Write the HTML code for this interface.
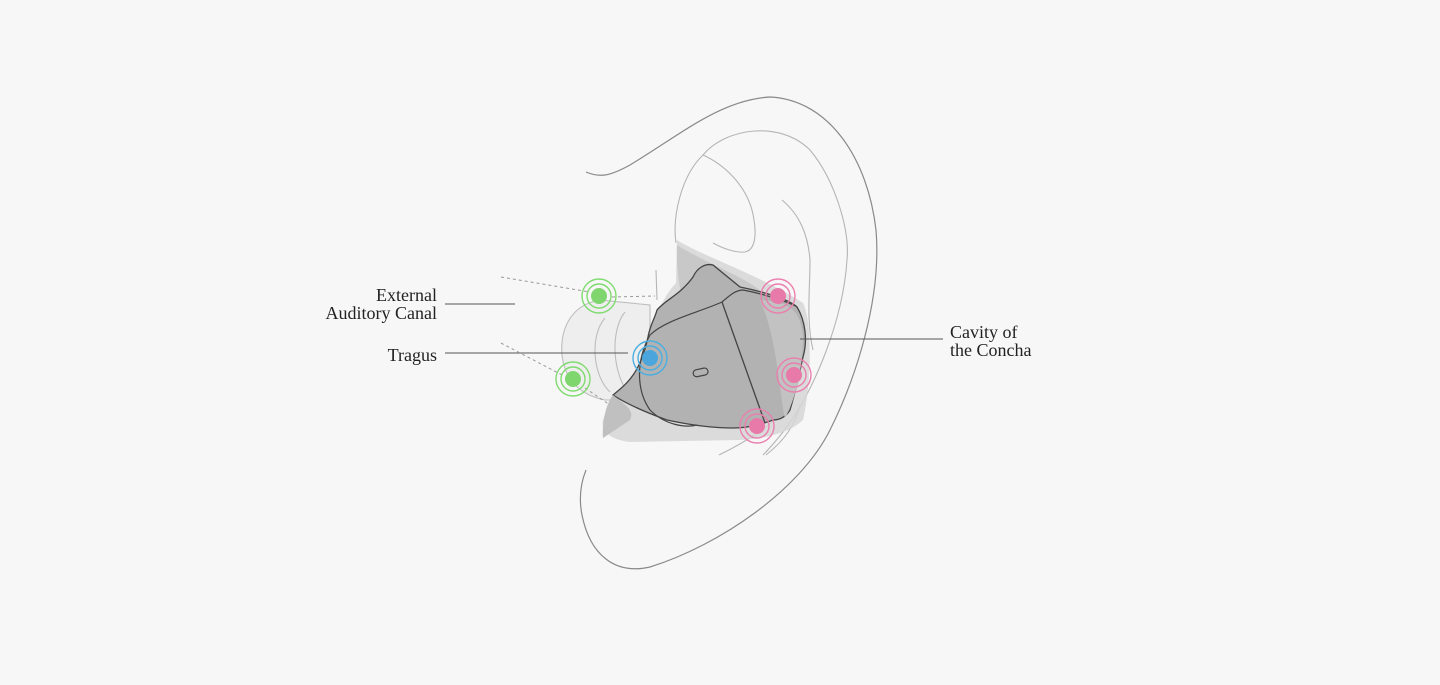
<!DOCTYPE html>
<html><head><meta charset="utf-8"><style>
body{margin:0;background:#f7f7f7;}
svg{display:block}
text{font-family:"Liberation Serif",serif;font-size:18px;fill:#222}
</style></head><body>
<svg width="1440" height="685" viewBox="0 0 1440 685" xmlns="http://www.w3.org/2000/svg">
<g fill="none" stroke="#8a8a8a" stroke-width="1.2">
<path d="M586,172 C600,178 610,176 630,165 C680,135 720,100 770,97 C830,100 868,160 876,230 C882,300 855,380 830,430 C800,490 720,545 650,567 C615,575 590,555 582,515 C578,495 582,480 586,470"/>
</g>
<g fill="none" stroke="#b5b5b5" stroke-width="1.1">
<path d="M676,243 C672,215 682,175 703,155 C725,128 780,120 810,150 C835,180 850,230 847,260 C843,320 815,390 783,432 C775,442 768,450 763,455"/>
<path d="M703,155 C725,165 745,185 752,210 C758,235 755,250 745,252 C735,253 722,248 713,243"/>
<path d="M782,200 C800,215 808,235 810,260 C810,290 806,320 813,350"/>
<path d="M719,455 C740,445 760,432 775,420"/>
<path d="M766,455 C785,440 795,425 800,405"/>
<path d="M656,270 L657,300"/>
</g>
<!-- eartip -->
<g stroke="#bdbdbd" stroke-width="1.1">
<path d="M600,300 C570,305 560,330 562,355 C565,380 580,395 605,400 L650,400 L650,305 Z" fill="#ececec" fill-opacity="0.85"/>
<path d="M605,318 C590,335 592,375 610,392" fill="none"/>
<path d="M625,312 C610,330 612,375 630,395" fill="none"/>
</g>
<!-- backdrop -->
<path d="M677,240 C700,255 760,275 803,303 C812,320 812,380 803,420 C790,432 770,438 740,440 L630,442 C610,440 600,430 603,420 C608,400 640,385 650,350 C655,320 660,300 676,283 Z" fill="#d6d6d6" fill-opacity="0.85"/>
<path d="M677,245 C700,260 740,275 760,290 C730,300 700,305 690,320 C680,300 676,270 677,245 Z" fill="#c8c8c8"/>
<!-- body -->
<path d="M693,277 C697,268 705,263 713,265 L740,287 C765,292 790,300 797,307 C805,320 808,340 803,357 C798,380 793,400 790,410 C785,418 778,420 773,420 C760,425 745,428 733,428 C710,428 690,425 667,420 C645,412 625,403 613,395 C625,385 640,375 648,337 C650,325 655,318 657,310 C665,300 680,295 693,277 Z" fill="#b2b2b2" stroke="#444" stroke-width="1.3"/>
<path d="M760,300 C790,302 800,310 803,335 C803,370 795,400 785,418 C780,400 778,340 760,300 Z" fill="#c2c2c2"/>
<path d="M613,395 C625,405 635,410 630,420 L603,438 C602,425 605,405 613,395 Z" fill="#c0c0c0"/>
<path d="M722,302 L765,423" stroke="#444" stroke-width="1.3" fill="none"/>
<path d="M722,302 C730,295 736,290 743,290 C770,295 795,305 797,307" stroke="#444" stroke-width="1.2" fill="none"/>
<path d="M722,302 C700,312 665,320 650,335 C636,360 636,390 650,410 C665,425 685,428 697,425" stroke="#444" stroke-width="1.2" fill="none"/>
<rect x="693" y="369" width="15" height="7" rx="3.5" fill="none" stroke="#444" stroke-width="1.2" transform="rotate(-12 700 372)"/>
<!-- leaders -->
<g stroke="#555" stroke-width="1.1">
<line x1="445" y1="304" x2="515" y2="304"/>
<line x1="445" y1="353" x2="628" y2="353"/>
<line x1="800" y1="339" x2="943" y2="339"/>
</g>
<g stroke="#999" stroke-width="1" stroke-dasharray="3,3" fill="none">
<path d="M501,277 L590,292"/><path d="M612,297 L655,296"/>
<path d="M501,343 L562,375"/><path d="M585,388 L610,405"/>
</g>
<!-- markers -->
<g fill="none" stroke-width="1.4">
<g stroke="#7fdb6f"><circle cx="599" cy="296" r="12"/><circle cx="599" cy="296" r="17"/><circle cx="573" cy="379" r="12"/><circle cx="573" cy="379" r="17"/></g>
<g stroke="#4aaee0"><circle cx="650" cy="358" r="12"/><circle cx="650" cy="358" r="17"/></g>
<g stroke="#ea7fae"><circle cx="778" cy="296" r="12"/><circle cx="778" cy="296" r="17"/><circle cx="794" cy="375" r="12"/><circle cx="794" cy="375" r="17"/><circle cx="757" cy="426" r="12"/><circle cx="757" cy="426" r="17"/></g>
</g>
<g>
<circle cx="599" cy="296" r="8" fill="#7fd66e"/><circle cx="573" cy="379" r="8" fill="#7fd66e"/>
<circle cx="650" cy="358" r="8" fill="#4aa6dc"/>
<circle cx="778" cy="296" r="8" fill="#e77aa8"/><circle cx="794" cy="375" r="8" fill="#e77aa8"/><circle cx="757" cy="426" r="8" fill="#e77aa8"/>
</g>
<text x="437" y="301" text-anchor="end">External</text>
<text x="437" y="319" text-anchor="end">Auditory Canal</text>
<text x="437" y="361" text-anchor="end">Tragus</text>
<text x="950" y="338">Cavity of</text>
<text x="950" y="356">the Concha</text>
</svg>
</body></html>
